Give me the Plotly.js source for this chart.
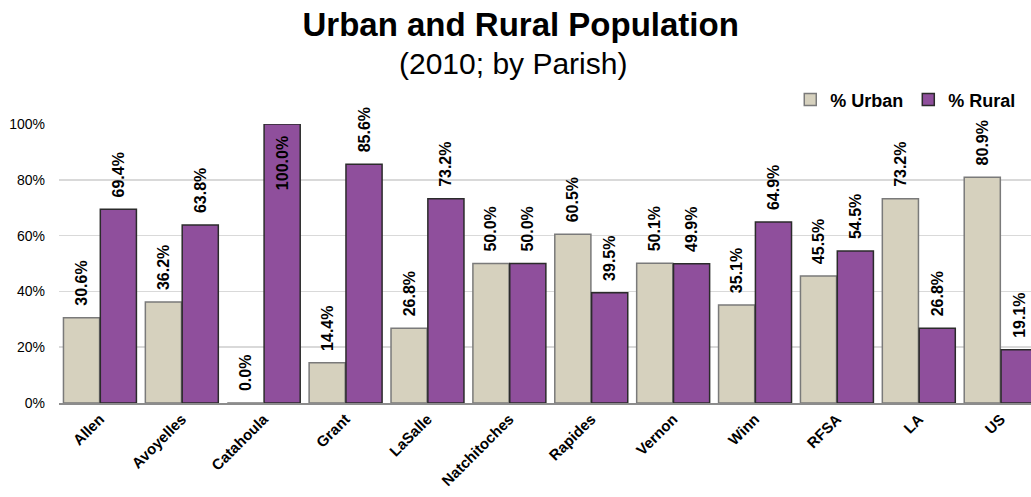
<!DOCTYPE html>
<html><head><meta charset="utf-8">
<script src="https://cdn.plot.ly/plotly-3.0.1.min.js"></script>
<style>html,body{margin:0;padding:0;overflow:hidden;background:#fff}</style>
</head><body>
<div id="chart" style="width:1031px;height:497px"></div>
<script>
const parishes = ["Allen","Avoyelles","Catahoula","Grant","LaSalle","Natchitoches","Rapides","Vernon","Winn","RFSA","LA","US"];
const urbanPct = [30.6,36.2,0.0,14.4,26.8,50.0,60.5,50.1,35.1,45.5,73.2,80.9];
const ruralPct = [69.4,63.8,100.0,85.6,73.2,50.0,39.5,49.9,64.9,54.5,26.8,19.1];
const yTicks = [0,20,40,60,80,100];
const yTickText = ["0%","20%","40%","60%","80%","100%"];

const sans = "Liberation Sans, Arial, sans-serif";
const labelFont = {family: sans, size: 16, color: "#000", weight: "bold"};
const NB = "\u00A0\u00A0";

function positions(vals){ return vals.map(v => v >= 95 ? "inside" : "outside"); }
function labels(vals){ return vals.map(v => v >= 95 ? v.toFixed(1) + "%" + NB : NB + v.toFixed(1) + "%"); }

const traces = [
  {type:"bar", name:"% Urban", x:parishes, y:urbanPct,
   marker:{color:"#D6D1BE", line:{color:"#7a7a7a", width:1.5}},
   text:labels(urbanPct), texttemplate:"%{text}", constraintext:"none",
   textposition:positions(urbanPct), textangle:-90, cliponaxis:false,
   textfont:labelFont, insidetextfont:labelFont, outsidetextfont:labelFont, insidetextanchor:"end"},
  {type:"bar", name:"% Rural", x:parishes, y:ruralPct,
   marker:{color:"#8F4F9C", line:{color:"#2b2b2b", width:1.5}},
   text:labels(ruralPct), texttemplate:"%{text}", constraintext:"none",
   textposition:positions(ruralPct), textangle:-90, cliponaxis:false,
   textfont:labelFont, insidetextfont:labelFont, outsidetextfont:labelFont, insidetextanchor:"end"}
];

const layout = {
  width:1031, height:497,
  margin:{l:59, r:0, t:124, b:94},
  paper_bgcolor:"#fff", plot_bgcolor:"#fff",
  barmode:"group", bargap:0.1, bargroupgap:0.02,
  showlegend:true,
  legend:{orientation:"h", x:0.99, xanchor:"right", y:1.02, yanchor:"bottom",
          font:{family:sans, size:18, color:"#000", weight:"bold"},
          itemwidth:30, traceorder:"normal", tracegroupgap:0},
  title:{text:"Urban and Rural Population", font:{family:sans, size:33, color:"#000", weight:"bold"},
         x:0.505, xanchor:"center", y:0.975, yanchor:"top"},
  annotations:[{text:"(2010; by Parish)", xref:"paper", yref:"paper", x:0.467, y:1.0, yshift:61, xanchor:"center", yanchor:"middle",
                showarrow:false, font:{family:sans, size:30, color:"#000"}}],
  xaxis:{type:"category", range:[-0.5, 11.37], tickangle:-45, showgrid:false,
         tickfont:{family:sans, size:15, color:"#000", weight:"bold"},
         showline:true, linecolor:"#8c8c8c", linewidth:1.5, ticks:"", fixedrange:true},
  yaxis:{range:[0,100], tickvals:yTicks, ticktext:yTickText, showgrid:true, gridcolor:"#d9d9d9", gridwidth:1.5,
         tickfont:{family:sans, size:14, color:"#000"}, ticks:"", ticklabelstandoff:13,
         zeroline:false, showline:false, fixedrange:true}
};

Plotly.newPlot("chart", traces, layout, {displayModeBar:false, staticPlot:true});
</script>
</body></html>
